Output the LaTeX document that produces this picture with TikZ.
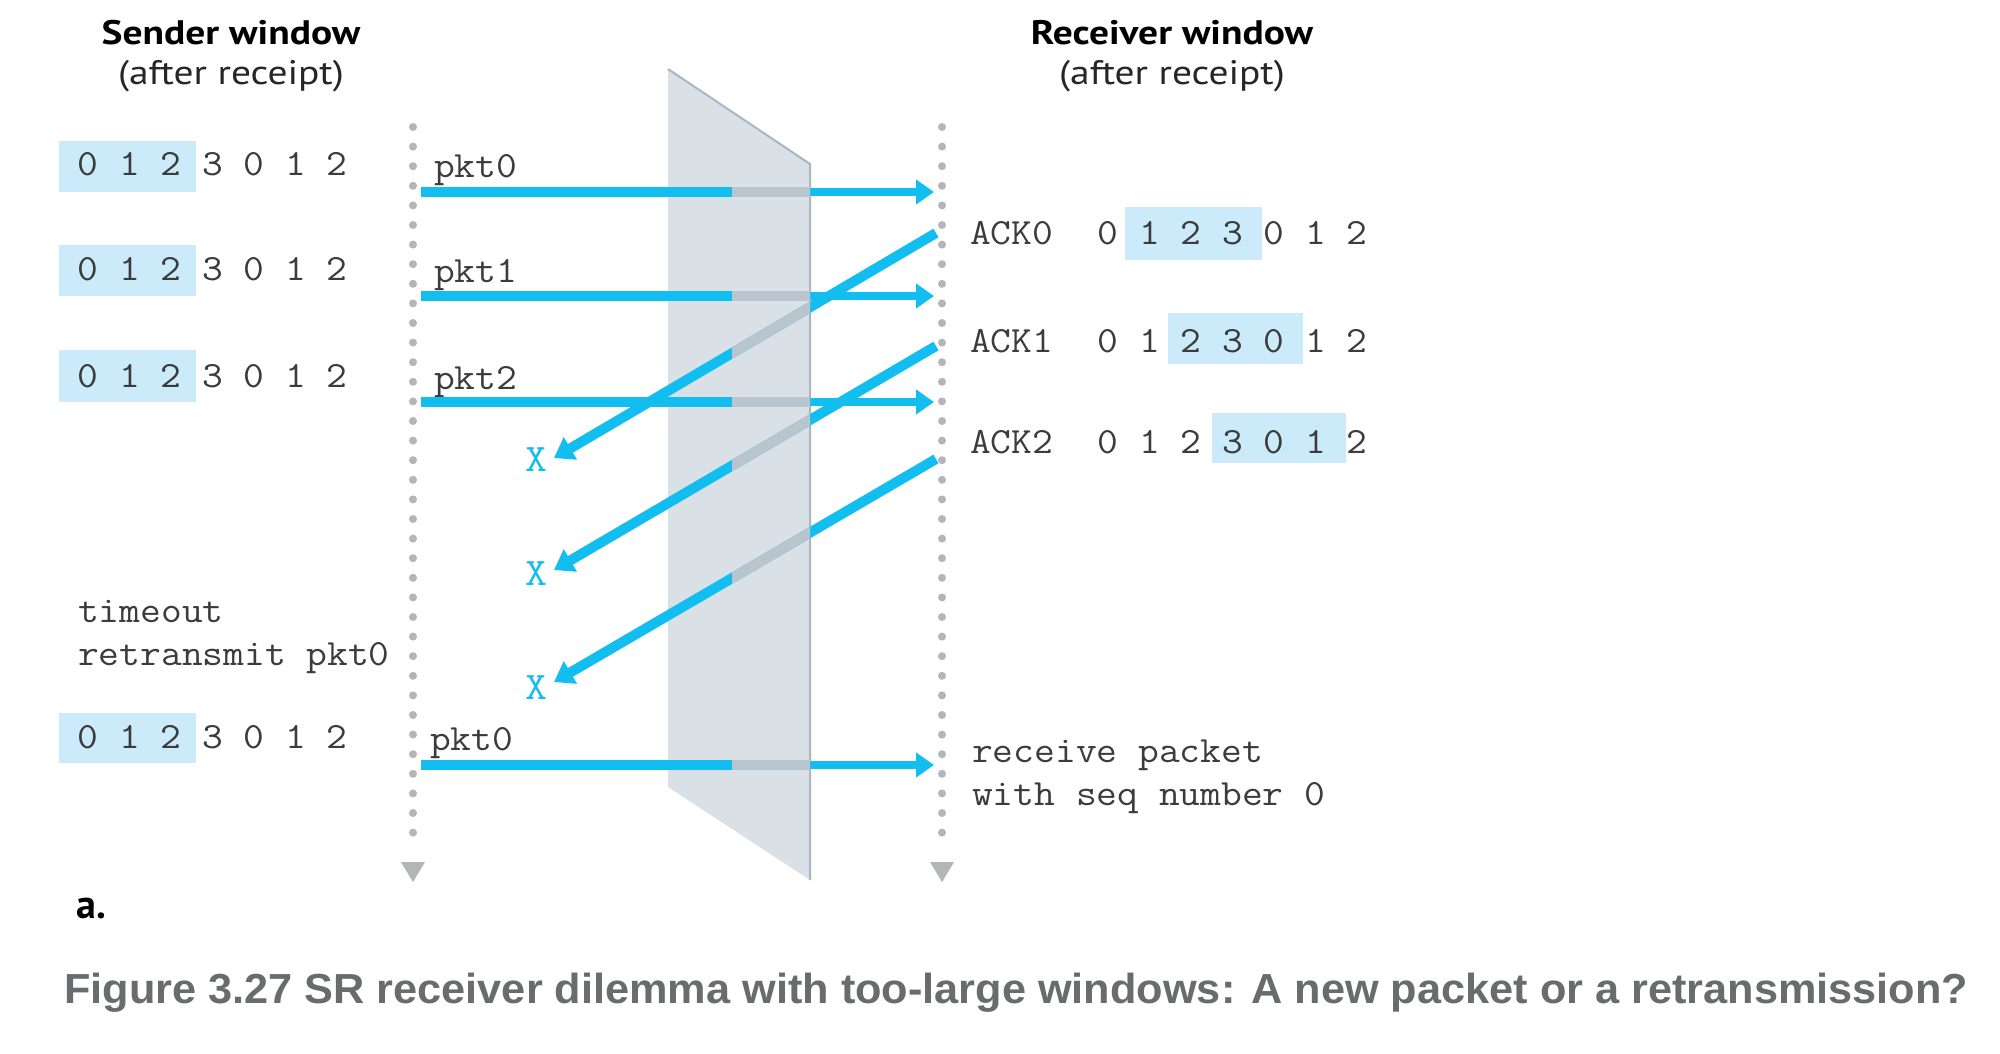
\documentclass[tikz,border=0pt]{standalone}
\usepackage{fontspec}
\newfontfamily\ttlfont{PT Sans}
\newfontfamily\capfont{Liberation Sans}
\usetikzlibrary{arrows.meta,calc}
\definecolor{pktblue}{HTML}{12BDF0}
\definecolor{segray}{HTML}{B8C5CE}
\definecolor{slabfill}{HTML}{D9E0E6}
\definecolor{slabedge}{HTML}{AAB6C0}
\definecolor{boxblue}{HTML}{CBEBFA}
\definecolor{txtgray}{HTML}{3C3C3C}
\definecolor{dotgray}{HTML}{B3B5B8}
\definecolor{capgray}{HTML}{6A6B6D}
\newcommand{\mt}[1]{\scalebox{1.09}[1]{#1}}
\newcommand{\wt}[1]{\scalebox{1.16}[1]{#1}}
\tikzset{
  mono/.style={inner sep=0pt, anchor=base west, text=txtgray, font=\ttfamily\fontsize{37}{43}\selectfont},
  xmark/.style={inner sep=0pt, anchor=base, text=pktblue, font=\ttfamily\fontsize{39}{43}\selectfont},
  title/.style={inner sep=0pt, anchor=base, text=black, font=\ttlfont\bfseries\fontsize{34}{40}\selectfont},
  subtitle/.style={inner sep=0pt, anchor=base, text=black!85, font=\ttlfont\fontsize{34}{40}\selectfont},
  winbox/.style={fill=boxblue},
  timeline/.style={dotgray, line width=8pt, line cap=round, dash pattern=on 0pt off 19.6pt},
  tlhead/.style={fill=dotgray},
  pktline/.style={pktblue, line width=10.5pt},
  pkthead/.style={pktblue, line width=8pt, -{Triangle[length=18pt,width=24pt]}},
  ackline/.style={pktblue, line width=10pt, -{Triangle[length=19pt,width=25pt]}},
  behind/.style={segray, line width=10.5pt},
}
\begin{document}
\begin{tikzpicture}[x=1pt,y=-1pt]
\useasboundingbox (0,0) rectangle (2000,1053);
\fill[white] (0,0) rectangle (2000,1053);

% titles
\node[title] (st1) at (231,44) {\wt{Sender window}};
\node[subtitle] (st2) at (231,84) {\wt{(after receipt)}};
\node[title] (rt1) at (1172,44) {\wt{Receiver window}};
\node[subtitle] (rt2) at (1172,84) {\wt{(after receipt)}};

% slab
\fill[slabfill] (668,69) -- (810,164) -- (810,880) -- (668,787) -- cycle;
\draw[slabedge, line width=2pt] (668,69) -- (810,164) -- (810,880);

% timelines
\coordinate (sT) at (413,127);
\coordinate (sB) at (413,852);
\coordinate (rT) at (942,127);
\coordinate (rB) at (942,852);
\draw[timeline] (sT) -- (sB);
\draw[timeline] (rT) -- (rB);
\fill[tlhead] (401,862) -- (425,862) -- (413,882) -- cycle;
\fill[tlhead] (930,862) -- (954,862) -- (942,882) -- cycle;

% sender windows
\fill[winbox] (59,141) rectangle (196,192);
\fill[winbox] (59,245) rectangle (196,296);
\fill[winbox] (59,350) rectangle (196,402);
\fill[winbox] (59,713) rectangle (196,763);
\node[mono] (sw1) at (77.5,175) {\mt{0 1 2 3 0 1 2}};
\node[mono] (sw2) at (77.5,280) {\mt{0 1 2 3 0 1 2}};
\node[mono] (sw3) at (77.5,387) {\mt{0 1 2 3 0 1 2}};
\node[mono] (sw4) at (77.5,748) {\mt{0 1 2 3 0 1 2}};

% receiver windows
\fill[winbox] (1125,207) rectangle (1262,260);
\fill[winbox] (1168,313) rectangle (1303,364);
\fill[winbox] (1212,413) rectangle (1346,463);
\node[mono] (rw1) at (1097.5,244) {\mt{0 1 2 3 0 1 2}};
\node[mono] (rw2) at (1097.5,352) {\mt{0 1 2 3 0 1 2}};
\node[mono] (rw3) at (1097.5,453) {\mt{0 1 2 3 0 1 2}};

% labels
\node[mono] (l0) at (434,177) {\mt{pkt0}};
\node[mono] (l1) at (434,282) {\mt{pkt1}};
\node[mono] (l2) at (434,389) {\mt{pkt2}};
\node[mono] (l3) at (430,750) {\mt{pkt0}};
\node[mono] (a0) at (970,244) {\mt{ACK0}};
\node[mono] (a1) at (970,352) {\mt{ACK1}};
\node[mono] (a2) at (970,453) {\mt{ACK2}};
\node[mono] (to1) at (78,622) {\mt{timeout}};
\node[mono] (to2) at (78,665) {\mt{retransmit pkt0}};
\node[mono] (rc1) at (972,762) {\mt{receive packet}};
\node[mono] (rc2) at (972,805) {\mt{with seq number 0}};

% packet arrows
\foreach \i/\y in {0/192,1/296,2/402,3/765}{
  \coordinate (p\i s) at (421,\y);
  \coordinate (p\i m) at (810,\y);
  \coordinate (p\i e) at (934,\y);
  \draw[pktline] (p\i s) -- (p\i m);
  \draw[pkthead] (p\i m) -- (p\i e);
}

% ack arrows
\coordinate (k0s) at (936,233); \coordinate (k0e) at (554,458);
\coordinate (k1s) at (936,346); \coordinate (k1e) at (554,570);
\coordinate (k2s) at (936,459); \coordinate (k2e) at (554,682);
\draw[ackline] (k0s) -- (k0e);
\draw[ackline] (k1s) -- (k1e);
\draw[ackline] (k2s) -- (k2e);

% parts behind the slab
\begin{scope}
  \clip (732,0) rectangle (810,1053);
  \draw[behind] (p0s) -- (p0e);
  \draw[behind] (p1s) -- (p1e);
  \draw[behind] (p2s) -- (p2e);
  \draw[behind] (p3s) -- (p3e);
  \draw[behind, line width=10pt] (k0s) -- (k0e);
  \draw[behind, line width=10pt] (k1s) -- (k1e);
  \draw[behind, line width=10pt] (k2s) -- (k2e);
\end{scope}

% lost marks
\node[xmark] (x0) at (536,471) {\mt{X}};
\node[xmark] (x1) at (536,585) {\mt{X}};
\node[xmark] (x2) at (536,699) {\mt{X}};

% figure label and caption
\node[inner sep=0pt, anchor=base west, font=\ttlfont\bfseries\fontsize{40}{46}\selectfont] (fa) at (76,918) {a.};
\node[inner sep=0pt, anchor=base west, text=capgray, font=\capfont\bfseries\fontsize{42}{48}\selectfont] (cap) at (64,1003)
  {\resizebox{1904pt}{\height}{Figure 3.27 SR receiver dilemma with too-large windows: A new packet or a retransmission?}};
\end{tikzpicture}
\end{document}
